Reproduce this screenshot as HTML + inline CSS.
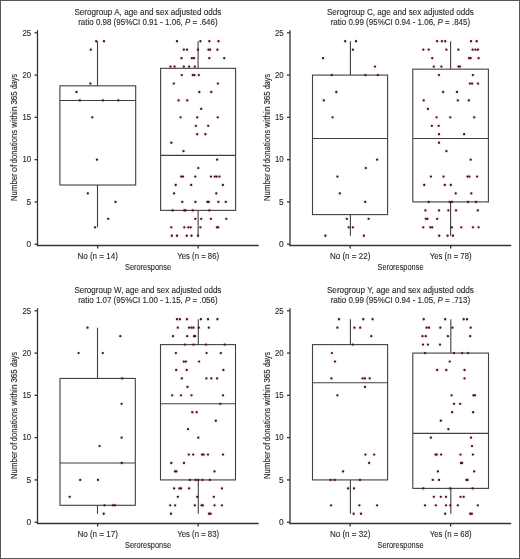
<!DOCTYPE html>
<html><head><meta charset="utf-8"><title>Seroresponse box plots</title><style>
html,body{margin:0;padding:0;background:#fff;}
body{width:520px;height:559px;overflow:hidden;}
svg{display:block;will-change:transform;}
text{font-family:"Liberation Sans",sans-serif;fill:#2a2a2a;stroke:#2a2a2a;stroke-width:0.12px;}
.tt{font-size:8.4px;text-anchor:middle;}
.tk{font-size:8.4px;text-anchor:end;}
.ct{font-size:8.6px;text-anchor:middle;}
.sr{font-size:9.9px;text-anchor:middle;}
.yl{font-size:9.2px;text-anchor:start;stroke:#2a2a2a;stroke-width:0.15px;}
.ax{stroke:#343434;stroke-width:1.3;fill:none;}
.bx{stroke:#404040;stroke-width:1.1;fill:none;}
circle{fill:#4a0f22;}
.h{fill:#d8244f;fill-opacity:0.07;}
</style></head>
<body><svg width="520" height="559" viewBox="0 0 520 559">
<rect x="0.5" y="0.5" width="519" height="558" fill="#fff" stroke="#585858" stroke-width="1"/>
<circle cx="96.2" cy="41.26" r="2.4" class="h"/>
<circle cx="104" cy="41.26" r="2.4" class="h"/>
<circle cx="90.8" cy="49.71" r="2.4" class="h"/>
<circle cx="90.4" cy="83.54" r="2.4" class="h"/>
<circle cx="76.5" cy="91.99" r="2.4" class="h"/>
<circle cx="79.8" cy="100.45" r="2.4" class="h"/>
<circle cx="102.9" cy="100.45" r="2.4" class="h"/>
<circle cx="118.3" cy="100.45" r="2.4" class="h"/>
<circle cx="92.3" cy="117.36" r="2.4" class="h"/>
<circle cx="97" cy="159.64" r="2.4" class="h"/>
<circle cx="87.8" cy="193.46" r="2.4" class="h"/>
<circle cx="115.5" cy="201.92" r="2.4" class="h"/>
<circle cx="108.2" cy="218.83" r="2.4" class="h"/>
<circle cx="95" cy="227.29" r="2.4" class="h"/>
<circle cx="177" cy="41.26" r="2.4" class="h"/>
<circle cx="200.4" cy="41.26" r="2.4" class="h"/>
<circle cx="209.3" cy="41.26" r="2.4" class="h"/>
<circle cx="218.5" cy="41.26" r="2.4" class="h"/>
<circle cx="183.8" cy="49.71" r="2.4" class="h"/>
<circle cx="187" cy="49.71" r="2.4" class="h"/>
<circle cx="198" cy="49.71" r="2.4" class="h"/>
<circle cx="208.5" cy="49.71" r="2.4" class="h"/>
<circle cx="210.1" cy="49.71" r="2.4" class="h"/>
<circle cx="217.4" cy="49.71" r="2.4" class="h"/>
<circle cx="181.5" cy="58.17" r="2.4" class="h"/>
<circle cx="191.9" cy="58.17" r="2.4" class="h"/>
<circle cx="194" cy="58.17" r="2.4" class="h"/>
<circle cx="209.3" cy="58.17" r="2.4" class="h"/>
<circle cx="224.2" cy="58.17" r="2.4" class="h"/>
<circle cx="170.5" cy="66.62" r="2.4" class="h"/>
<circle cx="174.6" cy="66.62" r="2.4" class="h"/>
<circle cx="183.8" cy="66.62" r="2.4" class="h"/>
<circle cx="189.1" cy="66.62" r="2.4" class="h"/>
<circle cx="194.8" cy="66.62" r="2.4" class="h"/>
<circle cx="181.8" cy="75.08" r="2.4" class="h"/>
<circle cx="192.8" cy="75.08" r="2.4" class="h"/>
<circle cx="194.4" cy="75.08" r="2.4" class="h"/>
<circle cx="198.8" cy="75.08" r="2.4" class="h"/>
<circle cx="173.8" cy="83.54" r="2.4" class="h"/>
<circle cx="217.9" cy="83.54" r="2.4" class="h"/>
<circle cx="199.3" cy="91.99" r="2.4" class="h"/>
<circle cx="211.3" cy="91.99" r="2.4" class="h"/>
<circle cx="178.6" cy="100.45" r="2.4" class="h"/>
<circle cx="187.2" cy="100.45" r="2.4" class="h"/>
<circle cx="201.2" cy="108.9" r="2.4" class="h"/>
<circle cx="180.6" cy="117.36" r="2.4" class="h"/>
<circle cx="197.2" cy="117.36" r="2.4" class="h"/>
<circle cx="217.7" cy="117.36" r="2.4" class="h"/>
<circle cx="195.9" cy="125.82" r="2.4" class="h"/>
<circle cx="208.2" cy="125.82" r="2.4" class="h"/>
<circle cx="197.2" cy="134.27" r="2.4" class="h"/>
<circle cx="205.4" cy="134.27" r="2.4" class="h"/>
<circle cx="171.3" cy="142.73" r="2.4" class="h"/>
<circle cx="183.5" cy="151.18" r="2.4" class="h"/>
<circle cx="217.1" cy="159.64" r="2.4" class="h"/>
<circle cx="198.3" cy="168.1" r="2.4" class="h"/>
<circle cx="181.2" cy="176.55" r="2.4" class="h"/>
<circle cx="183" cy="176.55" r="2.4" class="h"/>
<circle cx="195.3" cy="176.55" r="2.4" class="h"/>
<circle cx="210.9" cy="176.55" r="2.4" class="h"/>
<circle cx="214.8" cy="176.55" r="2.4" class="h"/>
<circle cx="216.7" cy="176.55" r="2.4" class="h"/>
<circle cx="219.5" cy="176.55" r="2.4" class="h"/>
<circle cx="175.7" cy="185.01" r="2.4" class="h"/>
<circle cx="191.2" cy="185.01" r="2.4" class="h"/>
<circle cx="222.9" cy="185.01" r="2.4" class="h"/>
<circle cx="174.1" cy="193.46" r="2.4" class="h"/>
<circle cx="216.3" cy="193.46" r="2.4" class="h"/>
<circle cx="182.3" cy="201.92" r="2.4" class="h"/>
<circle cx="195.4" cy="201.92" r="2.4" class="h"/>
<circle cx="207.4" cy="201.92" r="2.4" class="h"/>
<circle cx="208.7" cy="201.92" r="2.4" class="h"/>
<circle cx="218.4" cy="201.92" r="2.4" class="h"/>
<circle cx="225.8" cy="201.92" r="2.4" class="h"/>
<circle cx="172.6" cy="210.38" r="2.4" class="h"/>
<circle cx="184.3" cy="210.38" r="2.4" class="h"/>
<circle cx="185.6" cy="210.38" r="2.4" class="h"/>
<circle cx="192.7" cy="210.38" r="2.4" class="h"/>
<circle cx="209.3" cy="210.38" r="2.4" class="h"/>
<circle cx="195.3" cy="218.83" r="2.4" class="h"/>
<circle cx="201.2" cy="218.83" r="2.4" class="h"/>
<circle cx="210.9" cy="218.83" r="2.4" class="h"/>
<circle cx="226.3" cy="218.83" r="2.4" class="h"/>
<circle cx="171.3" cy="227.29" r="2.4" class="h"/>
<circle cx="184.3" cy="227.29" r="2.4" class="h"/>
<circle cx="188.3" cy="227.29" r="2.4" class="h"/>
<circle cx="190.7" cy="227.29" r="2.4" class="h"/>
<circle cx="200.4" cy="227.29" r="2.4" class="h"/>
<circle cx="216.9" cy="227.29" r="2.4" class="h"/>
<circle cx="218.2" cy="227.29" r="2.4" class="h"/>
<circle cx="171.8" cy="235.74" r="2.4" class="h"/>
<circle cx="177" cy="235.74" r="2.4" class="h"/>
<circle cx="186.7" cy="235.74" r="2.4" class="h"/>
<circle cx="191.5" cy="235.74" r="2.4" class="h"/>
<circle cx="198" cy="235.74" r="2.4" class="h"/>
<rect x="59.9" y="85.82" width="75.8" height="99.19" class="bx"/>
<line x1="59.9" y1="100.45" x2="135.7" y2="100.45" class="bx"/>
<line x1="97.5" y1="41.26" x2="97.5" y2="85.82" class="bx"/>
<line x1="97.5" y1="185.01" x2="97.5" y2="227.29" class="bx"/>
<rect x="160.6" y="68.32" width="75" height="142.06" class="bx"/>
<line x1="160.6" y1="155.41" x2="235.6" y2="155.41" class="bx"/>
<line x1="198.1" y1="41.26" x2="198.1" y2="68.32" class="bx"/>
<line x1="198.1" y1="210.38" x2="198.1" y2="235.74" class="bx"/>
<circle cx="96.2" cy="41.26" r="1.15"/>
<circle cx="104" cy="41.26" r="1.15"/>
<circle cx="90.8" cy="49.71" r="1.15"/>
<circle cx="90.4" cy="83.54" r="1.15"/>
<circle cx="76.5" cy="91.99" r="1.15"/>
<circle cx="79.8" cy="100.45" r="1.15"/>
<circle cx="102.9" cy="100.45" r="1.15"/>
<circle cx="118.3" cy="100.45" r="1.15"/>
<circle cx="92.3" cy="117.36" r="1.15"/>
<circle cx="97" cy="159.64" r="1.15"/>
<circle cx="87.8" cy="193.46" r="1.15"/>
<circle cx="115.5" cy="201.92" r="1.15"/>
<circle cx="108.2" cy="218.83" r="1.15"/>
<circle cx="95" cy="227.29" r="1.15"/>
<circle cx="177" cy="41.26" r="1.15"/>
<circle cx="200.4" cy="41.26" r="1.15"/>
<circle cx="209.3" cy="41.26" r="1.15"/>
<circle cx="218.5" cy="41.26" r="1.15"/>
<circle cx="183.8" cy="49.71" r="1.15"/>
<circle cx="187" cy="49.71" r="1.15"/>
<circle cx="198" cy="49.71" r="1.15"/>
<circle cx="208.5" cy="49.71" r="1.15"/>
<circle cx="210.1" cy="49.71" r="1.15"/>
<circle cx="217.4" cy="49.71" r="1.15"/>
<circle cx="181.5" cy="58.17" r="1.15"/>
<circle cx="191.9" cy="58.17" r="1.15"/>
<circle cx="194" cy="58.17" r="1.15"/>
<circle cx="209.3" cy="58.17" r="1.15"/>
<circle cx="224.2" cy="58.17" r="1.15"/>
<circle cx="170.5" cy="66.62" r="1.15"/>
<circle cx="174.6" cy="66.62" r="1.15"/>
<circle cx="183.8" cy="66.62" r="1.15"/>
<circle cx="189.1" cy="66.62" r="1.15"/>
<circle cx="194.8" cy="66.62" r="1.15"/>
<circle cx="181.8" cy="75.08" r="1.15"/>
<circle cx="192.8" cy="75.08" r="1.15"/>
<circle cx="194.4" cy="75.08" r="1.15"/>
<circle cx="198.8" cy="75.08" r="1.15"/>
<circle cx="173.8" cy="83.54" r="1.15"/>
<circle cx="217.9" cy="83.54" r="1.15"/>
<circle cx="199.3" cy="91.99" r="1.15"/>
<circle cx="211.3" cy="91.99" r="1.15"/>
<circle cx="178.6" cy="100.45" r="1.15"/>
<circle cx="187.2" cy="100.45" r="1.15"/>
<circle cx="201.2" cy="108.9" r="1.15"/>
<circle cx="180.6" cy="117.36" r="1.15"/>
<circle cx="197.2" cy="117.36" r="1.15"/>
<circle cx="217.7" cy="117.36" r="1.15"/>
<circle cx="195.9" cy="125.82" r="1.15"/>
<circle cx="208.2" cy="125.82" r="1.15"/>
<circle cx="197.2" cy="134.27" r="1.15"/>
<circle cx="205.4" cy="134.27" r="1.15"/>
<circle cx="171.3" cy="142.73" r="1.15"/>
<circle cx="183.5" cy="151.18" r="1.15"/>
<circle cx="217.1" cy="159.64" r="1.15"/>
<circle cx="198.3" cy="168.1" r="1.15"/>
<circle cx="181.2" cy="176.55" r="1.15"/>
<circle cx="183" cy="176.55" r="1.15"/>
<circle cx="195.3" cy="176.55" r="1.15"/>
<circle cx="210.9" cy="176.55" r="1.15"/>
<circle cx="214.8" cy="176.55" r="1.15"/>
<circle cx="216.7" cy="176.55" r="1.15"/>
<circle cx="219.5" cy="176.55" r="1.15"/>
<circle cx="175.7" cy="185.01" r="1.15"/>
<circle cx="191.2" cy="185.01" r="1.15"/>
<circle cx="222.9" cy="185.01" r="1.15"/>
<circle cx="174.1" cy="193.46" r="1.15"/>
<circle cx="216.3" cy="193.46" r="1.15"/>
<circle cx="182.3" cy="201.92" r="1.15"/>
<circle cx="195.4" cy="201.92" r="1.15"/>
<circle cx="207.4" cy="201.92" r="1.15"/>
<circle cx="208.7" cy="201.92" r="1.15"/>
<circle cx="218.4" cy="201.92" r="1.15"/>
<circle cx="225.8" cy="201.92" r="1.15"/>
<circle cx="172.6" cy="210.38" r="1.15"/>
<circle cx="184.3" cy="210.38" r="1.15"/>
<circle cx="185.6" cy="210.38" r="1.15"/>
<circle cx="192.7" cy="210.38" r="1.15"/>
<circle cx="209.3" cy="210.38" r="1.15"/>
<circle cx="195.3" cy="218.83" r="1.15"/>
<circle cx="201.2" cy="218.83" r="1.15"/>
<circle cx="210.9" cy="218.83" r="1.15"/>
<circle cx="226.3" cy="218.83" r="1.15"/>
<circle cx="171.3" cy="227.29" r="1.15"/>
<circle cx="184.3" cy="227.29" r="1.15"/>
<circle cx="188.3" cy="227.29" r="1.15"/>
<circle cx="190.7" cy="227.29" r="1.15"/>
<circle cx="200.4" cy="227.29" r="1.15"/>
<circle cx="216.9" cy="227.29" r="1.15"/>
<circle cx="218.2" cy="227.29" r="1.15"/>
<circle cx="171.8" cy="235.74" r="1.15"/>
<circle cx="177" cy="235.74" r="1.15"/>
<circle cx="186.7" cy="235.74" r="1.15"/>
<circle cx="191.5" cy="235.74" r="1.15"/>
<circle cx="198" cy="235.74" r="1.15"/>
<line x1="37.5" y1="30.2" x2="37.5" y2="246.1" class="ax"/>
<line x1="36.9" y1="245.5" x2="258.7" y2="245.5" class="ax"/>
<line x1="34.5" y1="244.2" x2="37.5" y2="244.2" class="ax"/>
<text x="31.2" y="247" class="tk">0</text>
<line x1="34.5" y1="201.92" x2="37.5" y2="201.92" class="ax"/>
<text x="31.2" y="204.72" class="tk">5</text>
<line x1="34.5" y1="159.64" x2="37.5" y2="159.64" class="ax"/>
<text x="31.2" y="162.44" class="tk" textLength="8.7" lengthAdjust="spacingAndGlyphs">10</text>
<line x1="34.5" y1="117.36" x2="37.5" y2="117.36" class="ax"/>
<text x="31.2" y="120.16" class="tk" textLength="8.7" lengthAdjust="spacingAndGlyphs">15</text>
<line x1="34.5" y1="75.08" x2="37.5" y2="75.08" class="ax"/>
<text x="31.2" y="77.88" class="tk" textLength="8.7" lengthAdjust="spacingAndGlyphs">20</text>
<line x1="34.5" y1="32.8" x2="37.5" y2="32.8" class="ax"/>
<text x="31.2" y="35.6" class="tk" textLength="8.7" lengthAdjust="spacingAndGlyphs">25</text>
<line x1="97.65" y1="245.5" x2="97.65" y2="248.6" class="ax"/>
<line x1="198.15" y1="245.5" x2="198.15" y2="248.6" class="ax"/>
<text x="97.65" y="258.6" class="ct" textLength="40.5" lengthAdjust="spacingAndGlyphs">No (n = 14)</text>
<text x="198.15" y="258.6" class="ct" textLength="41.8" lengthAdjust="spacingAndGlyphs">Yes (n = 86)</text>
<text x="148" y="270.1" class="sr" textLength="46.0" lengthAdjust="spacingAndGlyphs">Seroresponse</text>
<text x="147.9" y="15.4" class="tt" textLength="147.0" lengthAdjust="spacingAndGlyphs">Serogroup A, age and sex adjusted odds</text>
<text x="147.9" y="24.6" class="tt" textLength="139.5" lengthAdjust="spacingAndGlyphs">ratio 0.98 (95%CI 0.91 - 1.06, <tspan font-style="italic">P</tspan> = .646)</text>
<text transform="translate(17.3,201.1) rotate(-90)" x="0" y="0" class="yl" textLength="27.8" lengthAdjust="spacingAndGlyphs">Number</text>
<text transform="translate(17.3,171.9) rotate(-90)" x="0" y="0" class="yl" textLength="7.4" lengthAdjust="spacingAndGlyphs">of</text>
<text transform="translate(17.3,163.3) rotate(-90)" x="0" y="0" class="yl" textLength="33.5" lengthAdjust="spacingAndGlyphs">donations</text>
<text transform="translate(17.3,127.7) rotate(-90)" x="0" y="0" class="yl" textLength="21.2" lengthAdjust="spacingAndGlyphs">within</text>
<text transform="translate(17.3,104.6) rotate(-90)" x="0" y="0" class="yl" textLength="13.3" lengthAdjust="spacingAndGlyphs">365</text>
<text transform="translate(17.3,89.1) rotate(-90)" x="0" y="0" class="yl" textLength="15.1" lengthAdjust="spacingAndGlyphs">days</text>
<circle cx="345.2" cy="41.26" r="2.4" class="h"/>
<circle cx="356" cy="41.26" r="2.4" class="h"/>
<circle cx="352.9" cy="49.71" r="2.4" class="h"/>
<circle cx="323" cy="58.17" r="2.4" class="h"/>
<circle cx="375" cy="66.62" r="2.4" class="h"/>
<circle cx="331.7" cy="75.08" r="2.4" class="h"/>
<circle cx="365.4" cy="75.08" r="2.4" class="h"/>
<circle cx="377.8" cy="75.08" r="2.4" class="h"/>
<circle cx="336.3" cy="91.99" r="2.4" class="h"/>
<circle cx="323.8" cy="100.45" r="2.4" class="h"/>
<circle cx="332.6" cy="117.36" r="2.4" class="h"/>
<circle cx="377.1" cy="159.64" r="2.4" class="h"/>
<circle cx="365.8" cy="168.1" r="2.4" class="h"/>
<circle cx="337.4" cy="176.55" r="2.4" class="h"/>
<circle cx="339.8" cy="193.46" r="2.4" class="h"/>
<circle cx="365.2" cy="201.92" r="2.4" class="h"/>
<circle cx="346.8" cy="218.83" r="2.4" class="h"/>
<circle cx="368.6" cy="218.83" r="2.4" class="h"/>
<circle cx="348.7" cy="227.29" r="2.4" class="h"/>
<circle cx="352.9" cy="227.29" r="2.4" class="h"/>
<circle cx="325.4" cy="235.74" r="2.4" class="h"/>
<circle cx="363.9" cy="235.74" r="2.4" class="h"/>
<circle cx="437.1" cy="41.26" r="2.4" class="h"/>
<circle cx="441.9" cy="41.26" r="2.4" class="h"/>
<circle cx="445.2" cy="41.26" r="2.4" class="h"/>
<circle cx="471" cy="41.26" r="2.4" class="h"/>
<circle cx="476.7" cy="41.26" r="2.4" class="h"/>
<circle cx="423.3" cy="49.71" r="2.4" class="h"/>
<circle cx="428.7" cy="49.71" r="2.4" class="h"/>
<circle cx="446.4" cy="49.71" r="2.4" class="h"/>
<circle cx="458.4" cy="49.71" r="2.4" class="h"/>
<circle cx="472.6" cy="49.71" r="2.4" class="h"/>
<circle cx="475.5" cy="49.71" r="2.4" class="h"/>
<circle cx="478" cy="49.71" r="2.4" class="h"/>
<circle cx="432.2" cy="58.17" r="2.4" class="h"/>
<circle cx="469.1" cy="58.17" r="2.4" class="h"/>
<circle cx="470.6" cy="58.17" r="2.4" class="h"/>
<circle cx="478.6" cy="58.17" r="2.4" class="h"/>
<circle cx="433.8" cy="66.62" r="2.4" class="h"/>
<circle cx="441.4" cy="66.62" r="2.4" class="h"/>
<circle cx="458.4" cy="66.62" r="2.4" class="h"/>
<circle cx="460" cy="66.62" r="2.4" class="h"/>
<circle cx="439" cy="75.08" r="2.4" class="h"/>
<circle cx="472.9" cy="75.08" r="2.4" class="h"/>
<circle cx="469.9" cy="83.54" r="2.4" class="h"/>
<circle cx="472.1" cy="83.54" r="2.4" class="h"/>
<circle cx="478" cy="83.54" r="2.4" class="h"/>
<circle cx="443.1" cy="91.99" r="2.4" class="h"/>
<circle cx="457" cy="91.99" r="2.4" class="h"/>
<circle cx="423.7" cy="100.45" r="2.4" class="h"/>
<circle cx="457.8" cy="100.45" r="2.4" class="h"/>
<circle cx="468.9" cy="100.45" r="2.4" class="h"/>
<circle cx="427.9" cy="108.9" r="2.4" class="h"/>
<circle cx="436.6" cy="117.36" r="2.4" class="h"/>
<circle cx="450.3" cy="117.36" r="2.4" class="h"/>
<circle cx="474.2" cy="117.36" r="2.4" class="h"/>
<circle cx="431.9" cy="125.82" r="2.4" class="h"/>
<circle cx="438.7" cy="125.82" r="2.4" class="h"/>
<circle cx="439" cy="134.27" r="2.4" class="h"/>
<circle cx="464.1" cy="134.27" r="2.4" class="h"/>
<circle cx="439" cy="142.73" r="2.4" class="h"/>
<circle cx="446.4" cy="151.18" r="2.4" class="h"/>
<circle cx="470.7" cy="159.64" r="2.4" class="h"/>
<circle cx="430.9" cy="176.55" r="2.4" class="h"/>
<circle cx="443.5" cy="176.55" r="2.4" class="h"/>
<circle cx="467.5" cy="176.55" r="2.4" class="h"/>
<circle cx="469.4" cy="176.55" r="2.4" class="h"/>
<circle cx="477.1" cy="176.55" r="2.4" class="h"/>
<circle cx="424.2" cy="185.01" r="2.4" class="h"/>
<circle cx="444.8" cy="185.01" r="2.4" class="h"/>
<circle cx="450.8" cy="185.01" r="2.4" class="h"/>
<circle cx="455.7" cy="193.46" r="2.4" class="h"/>
<circle cx="471.3" cy="193.46" r="2.4" class="h"/>
<circle cx="428.7" cy="201.92" r="2.4" class="h"/>
<circle cx="449.7" cy="201.92" r="2.4" class="h"/>
<circle cx="451.9" cy="201.92" r="2.4" class="h"/>
<circle cx="468.1" cy="201.92" r="2.4" class="h"/>
<circle cx="475.9" cy="201.92" r="2.4" class="h"/>
<circle cx="425.4" cy="210.38" r="2.4" class="h"/>
<circle cx="439" cy="210.38" r="2.4" class="h"/>
<circle cx="448.4" cy="210.38" r="2.4" class="h"/>
<circle cx="456" cy="210.38" r="2.4" class="h"/>
<circle cx="477.8" cy="210.38" r="2.4" class="h"/>
<circle cx="425.8" cy="218.83" r="2.4" class="h"/>
<circle cx="427.4" cy="218.83" r="2.4" class="h"/>
<circle cx="437.2" cy="218.83" r="2.4" class="h"/>
<circle cx="423.3" cy="227.29" r="2.4" class="h"/>
<circle cx="430.3" cy="227.29" r="2.4" class="h"/>
<circle cx="432.2" cy="227.29" r="2.4" class="h"/>
<circle cx="451.9" cy="227.29" r="2.4" class="h"/>
<circle cx="461.3" cy="227.29" r="2.4" class="h"/>
<circle cx="472.9" cy="227.29" r="2.4" class="h"/>
<circle cx="478.6" cy="227.29" r="2.4" class="h"/>
<circle cx="439.2" cy="235.74" r="2.4" class="h"/>
<circle cx="447.6" cy="235.74" r="2.4" class="h"/>
<circle cx="452.9" cy="235.74" r="2.4" class="h"/>
<rect x="312.5" y="75.08" width="75.1" height="139.52" class="bx"/>
<line x1="312.5" y1="138.5" x2="387.6" y2="138.5" class="bx"/>
<line x1="350.4" y1="41.26" x2="350.4" y2="75.08" class="bx"/>
<line x1="350.4" y1="214.6" x2="350.4" y2="235.74" class="bx"/>
<rect x="412.8" y="69.16" width="75.6" height="132.76" class="bx"/>
<line x1="412.8" y1="138.5" x2="488.4" y2="138.5" class="bx"/>
<line x1="450.6" y1="41.26" x2="450.6" y2="69.16" class="bx"/>
<line x1="450.6" y1="201.92" x2="450.6" y2="235.74" class="bx"/>
<circle cx="345.2" cy="41.26" r="1.15"/>
<circle cx="356" cy="41.26" r="1.15"/>
<circle cx="352.9" cy="49.71" r="1.15"/>
<circle cx="323" cy="58.17" r="1.15"/>
<circle cx="375" cy="66.62" r="1.15"/>
<circle cx="331.7" cy="75.08" r="1.15"/>
<circle cx="365.4" cy="75.08" r="1.15"/>
<circle cx="377.8" cy="75.08" r="1.15"/>
<circle cx="336.3" cy="91.99" r="1.15"/>
<circle cx="323.8" cy="100.45" r="1.15"/>
<circle cx="332.6" cy="117.36" r="1.15"/>
<circle cx="377.1" cy="159.64" r="1.15"/>
<circle cx="365.8" cy="168.1" r="1.15"/>
<circle cx="337.4" cy="176.55" r="1.15"/>
<circle cx="339.8" cy="193.46" r="1.15"/>
<circle cx="365.2" cy="201.92" r="1.15"/>
<circle cx="346.8" cy="218.83" r="1.15"/>
<circle cx="368.6" cy="218.83" r="1.15"/>
<circle cx="348.7" cy="227.29" r="1.15"/>
<circle cx="352.9" cy="227.29" r="1.15"/>
<circle cx="325.4" cy="235.74" r="1.15"/>
<circle cx="363.9" cy="235.74" r="1.15"/>
<circle cx="437.1" cy="41.26" r="1.15"/>
<circle cx="441.9" cy="41.26" r="1.15"/>
<circle cx="445.2" cy="41.26" r="1.15"/>
<circle cx="471" cy="41.26" r="1.15"/>
<circle cx="476.7" cy="41.26" r="1.15"/>
<circle cx="423.3" cy="49.71" r="1.15"/>
<circle cx="428.7" cy="49.71" r="1.15"/>
<circle cx="446.4" cy="49.71" r="1.15"/>
<circle cx="458.4" cy="49.71" r="1.15"/>
<circle cx="472.6" cy="49.71" r="1.15"/>
<circle cx="475.5" cy="49.71" r="1.15"/>
<circle cx="478" cy="49.71" r="1.15"/>
<circle cx="432.2" cy="58.17" r="1.15"/>
<circle cx="469.1" cy="58.17" r="1.15"/>
<circle cx="470.6" cy="58.17" r="1.15"/>
<circle cx="478.6" cy="58.17" r="1.15"/>
<circle cx="433.8" cy="66.62" r="1.15"/>
<circle cx="441.4" cy="66.62" r="1.15"/>
<circle cx="458.4" cy="66.62" r="1.15"/>
<circle cx="460" cy="66.62" r="1.15"/>
<circle cx="439" cy="75.08" r="1.15"/>
<circle cx="472.9" cy="75.08" r="1.15"/>
<circle cx="469.9" cy="83.54" r="1.15"/>
<circle cx="472.1" cy="83.54" r="1.15"/>
<circle cx="478" cy="83.54" r="1.15"/>
<circle cx="443.1" cy="91.99" r="1.15"/>
<circle cx="457" cy="91.99" r="1.15"/>
<circle cx="423.7" cy="100.45" r="1.15"/>
<circle cx="457.8" cy="100.45" r="1.15"/>
<circle cx="468.9" cy="100.45" r="1.15"/>
<circle cx="427.9" cy="108.9" r="1.15"/>
<circle cx="436.6" cy="117.36" r="1.15"/>
<circle cx="450.3" cy="117.36" r="1.15"/>
<circle cx="474.2" cy="117.36" r="1.15"/>
<circle cx="431.9" cy="125.82" r="1.15"/>
<circle cx="438.7" cy="125.82" r="1.15"/>
<circle cx="439" cy="134.27" r="1.15"/>
<circle cx="464.1" cy="134.27" r="1.15"/>
<circle cx="439" cy="142.73" r="1.15"/>
<circle cx="446.4" cy="151.18" r="1.15"/>
<circle cx="470.7" cy="159.64" r="1.15"/>
<circle cx="430.9" cy="176.55" r="1.15"/>
<circle cx="443.5" cy="176.55" r="1.15"/>
<circle cx="467.5" cy="176.55" r="1.15"/>
<circle cx="469.4" cy="176.55" r="1.15"/>
<circle cx="477.1" cy="176.55" r="1.15"/>
<circle cx="424.2" cy="185.01" r="1.15"/>
<circle cx="444.8" cy="185.01" r="1.15"/>
<circle cx="450.8" cy="185.01" r="1.15"/>
<circle cx="455.7" cy="193.46" r="1.15"/>
<circle cx="471.3" cy="193.46" r="1.15"/>
<circle cx="428.7" cy="201.92" r="1.15"/>
<circle cx="449.7" cy="201.92" r="1.15"/>
<circle cx="451.9" cy="201.92" r="1.15"/>
<circle cx="468.1" cy="201.92" r="1.15"/>
<circle cx="475.9" cy="201.92" r="1.15"/>
<circle cx="425.4" cy="210.38" r="1.15"/>
<circle cx="439" cy="210.38" r="1.15"/>
<circle cx="448.4" cy="210.38" r="1.15"/>
<circle cx="456" cy="210.38" r="1.15"/>
<circle cx="477.8" cy="210.38" r="1.15"/>
<circle cx="425.8" cy="218.83" r="1.15"/>
<circle cx="427.4" cy="218.83" r="1.15"/>
<circle cx="437.2" cy="218.83" r="1.15"/>
<circle cx="423.3" cy="227.29" r="1.15"/>
<circle cx="430.3" cy="227.29" r="1.15"/>
<circle cx="432.2" cy="227.29" r="1.15"/>
<circle cx="451.9" cy="227.29" r="1.15"/>
<circle cx="461.3" cy="227.29" r="1.15"/>
<circle cx="472.9" cy="227.29" r="1.15"/>
<circle cx="478.6" cy="227.29" r="1.15"/>
<circle cx="439.2" cy="235.74" r="1.15"/>
<circle cx="447.6" cy="235.74" r="1.15"/>
<circle cx="452.9" cy="235.74" r="1.15"/>
<line x1="290" y1="30.2" x2="290" y2="246.1" class="ax"/>
<line x1="289.4" y1="245.5" x2="511.2" y2="245.5" class="ax"/>
<line x1="287" y1="244.2" x2="290" y2="244.2" class="ax"/>
<text x="283.7" y="247" class="tk">0</text>
<line x1="287" y1="201.92" x2="290" y2="201.92" class="ax"/>
<text x="283.7" y="204.72" class="tk">5</text>
<line x1="287" y1="159.64" x2="290" y2="159.64" class="ax"/>
<text x="283.7" y="162.44" class="tk" textLength="8.7" lengthAdjust="spacingAndGlyphs">10</text>
<line x1="287" y1="117.36" x2="290" y2="117.36" class="ax"/>
<text x="283.7" y="120.16" class="tk" textLength="8.7" lengthAdjust="spacingAndGlyphs">15</text>
<line x1="287" y1="75.08" x2="290" y2="75.08" class="ax"/>
<text x="283.7" y="77.88" class="tk" textLength="8.7" lengthAdjust="spacingAndGlyphs">20</text>
<line x1="287" y1="32.8" x2="290" y2="32.8" class="ax"/>
<text x="283.7" y="35.6" class="tk" textLength="8.7" lengthAdjust="spacingAndGlyphs">25</text>
<line x1="350.15" y1="245.5" x2="350.15" y2="248.6" class="ax"/>
<line x1="450.65" y1="245.5" x2="450.65" y2="248.6" class="ax"/>
<text x="350.15" y="258.6" class="ct" textLength="40.5" lengthAdjust="spacingAndGlyphs">No (n = 22)</text>
<text x="450.65" y="258.6" class="ct" textLength="41.8" lengthAdjust="spacingAndGlyphs">Yes (n = 78)</text>
<text x="400.5" y="270.1" class="sr" textLength="46.0" lengthAdjust="spacingAndGlyphs">Seroresponse</text>
<text x="400.4" y="15.4" class="tt" textLength="147.0" lengthAdjust="spacingAndGlyphs">Serogroup C, age and sex adjusted odds</text>
<text x="400.4" y="24.6" class="tt" textLength="139.5" lengthAdjust="spacingAndGlyphs">ratio 0.99 (95%CI 0.94 - 1.06, <tspan font-style="italic">P</tspan> = .845)</text>
<text transform="translate(269.8,201.1) rotate(-90)" x="0" y="0" class="yl" textLength="27.8" lengthAdjust="spacingAndGlyphs">Number</text>
<text transform="translate(269.8,171.9) rotate(-90)" x="0" y="0" class="yl" textLength="7.4" lengthAdjust="spacingAndGlyphs">of</text>
<text transform="translate(269.8,163.3) rotate(-90)" x="0" y="0" class="yl" textLength="33.5" lengthAdjust="spacingAndGlyphs">donations</text>
<text transform="translate(269.8,127.7) rotate(-90)" x="0" y="0" class="yl" textLength="21.2" lengthAdjust="spacingAndGlyphs">within</text>
<text transform="translate(269.8,104.6) rotate(-90)" x="0" y="0" class="yl" textLength="13.3" lengthAdjust="spacingAndGlyphs">365</text>
<text transform="translate(269.8,89.1) rotate(-90)" x="0" y="0" class="yl" textLength="15.1" lengthAdjust="spacingAndGlyphs">days</text>
<circle cx="87.5" cy="327.71" r="2.4" class="h"/>
<circle cx="120.3" cy="336.17" r="2.4" class="h"/>
<circle cx="78.6" cy="353.08" r="2.4" class="h"/>
<circle cx="102.8" cy="353.08" r="2.4" class="h"/>
<circle cx="122.2" cy="378.45" r="2.4" class="h"/>
<circle cx="121.6" cy="403.82" r="2.4" class="h"/>
<circle cx="121.6" cy="437.64" r="2.4" class="h"/>
<circle cx="99.6" cy="446.1" r="2.4" class="h"/>
<circle cx="121.8" cy="463.01" r="2.4" class="h"/>
<circle cx="80.2" cy="479.92" r="2.4" class="h"/>
<circle cx="98" cy="479.92" r="2.4" class="h"/>
<circle cx="69.7" cy="496.83" r="2.4" class="h"/>
<circle cx="104.5" cy="505.29" r="2.4" class="h"/>
<circle cx="112.9" cy="505.29" r="2.4" class="h"/>
<circle cx="115" cy="505.29" r="2.4" class="h"/>
<circle cx="103.7" cy="513.74" r="2.4" class="h"/>
<circle cx="177" cy="319.26" r="2.4" class="h"/>
<circle cx="179.9" cy="319.26" r="2.4" class="h"/>
<circle cx="187" cy="319.26" r="2.4" class="h"/>
<circle cx="200.9" cy="319.26" r="2.4" class="h"/>
<circle cx="208" cy="319.26" r="2.4" class="h"/>
<circle cx="217.4" cy="319.26" r="2.4" class="h"/>
<circle cx="177.8" cy="327.71" r="2.4" class="h"/>
<circle cx="189.1" cy="327.71" r="2.4" class="h"/>
<circle cx="191.5" cy="327.71" r="2.4" class="h"/>
<circle cx="193.5" cy="327.71" r="2.4" class="h"/>
<circle cx="198.8" cy="327.71" r="2.4" class="h"/>
<circle cx="208.8" cy="327.71" r="2.4" class="h"/>
<circle cx="173" cy="336.17" r="2.4" class="h"/>
<circle cx="187.2" cy="336.17" r="2.4" class="h"/>
<circle cx="194" cy="336.17" r="2.4" class="h"/>
<circle cx="195.1" cy="336.17" r="2.4" class="h"/>
<circle cx="184.8" cy="344.62" r="2.4" class="h"/>
<circle cx="193.5" cy="344.62" r="2.4" class="h"/>
<circle cx="206.1" cy="344.62" r="2.4" class="h"/>
<circle cx="224.7" cy="344.62" r="2.4" class="h"/>
<circle cx="175.9" cy="353.08" r="2.4" class="h"/>
<circle cx="206.6" cy="353.08" r="2.4" class="h"/>
<circle cx="220.9" cy="353.08" r="2.4" class="h"/>
<circle cx="183.8" cy="361.54" r="2.4" class="h"/>
<circle cx="185.9" cy="361.54" r="2.4" class="h"/>
<circle cx="199.1" cy="361.54" r="2.4" class="h"/>
<circle cx="176.2" cy="369.99" r="2.4" class="h"/>
<circle cx="186.7" cy="369.99" r="2.4" class="h"/>
<circle cx="223.4" cy="369.99" r="2.4" class="h"/>
<circle cx="181.8" cy="378.45" r="2.4" class="h"/>
<circle cx="206.4" cy="378.45" r="2.4" class="h"/>
<circle cx="211.3" cy="378.45" r="2.4" class="h"/>
<circle cx="217.1" cy="378.45" r="2.4" class="h"/>
<circle cx="187.5" cy="386.9" r="2.4" class="h"/>
<circle cx="172.2" cy="395.36" r="2.4" class="h"/>
<circle cx="181" cy="395.36" r="2.4" class="h"/>
<circle cx="191.5" cy="395.36" r="2.4" class="h"/>
<circle cx="223" cy="395.36" r="2.4" class="h"/>
<circle cx="220.3" cy="403.82" r="2.4" class="h"/>
<circle cx="192.3" cy="412.27" r="2.4" class="h"/>
<circle cx="196.7" cy="412.27" r="2.4" class="h"/>
<circle cx="215.8" cy="420.73" r="2.4" class="h"/>
<circle cx="188" cy="429.18" r="2.4" class="h"/>
<circle cx="198.3" cy="437.64" r="2.4" class="h"/>
<circle cx="188.8" cy="454.55" r="2.4" class="h"/>
<circle cx="193.2" cy="454.55" r="2.4" class="h"/>
<circle cx="202" cy="454.55" r="2.4" class="h"/>
<circle cx="203.7" cy="454.55" r="2.4" class="h"/>
<circle cx="208" cy="454.55" r="2.4" class="h"/>
<circle cx="223" cy="454.55" r="2.4" class="h"/>
<circle cx="171.3" cy="463.01" r="2.4" class="h"/>
<circle cx="184" cy="463.01" r="2.4" class="h"/>
<circle cx="175.1" cy="471.46" r="2.4" class="h"/>
<circle cx="176.4" cy="471.46" r="2.4" class="h"/>
<circle cx="214.5" cy="471.46" r="2.4" class="h"/>
<circle cx="189.9" cy="479.92" r="2.4" class="h"/>
<circle cx="195.6" cy="479.92" r="2.4" class="h"/>
<circle cx="198.3" cy="479.92" r="2.4" class="h"/>
<circle cx="202.5" cy="479.92" r="2.4" class="h"/>
<circle cx="209.8" cy="479.92" r="2.4" class="h"/>
<circle cx="174.1" cy="488.38" r="2.4" class="h"/>
<circle cx="179.4" cy="488.38" r="2.4" class="h"/>
<circle cx="181" cy="488.38" r="2.4" class="h"/>
<circle cx="189.1" cy="488.38" r="2.4" class="h"/>
<circle cx="221.9" cy="488.38" r="2.4" class="h"/>
<circle cx="177.8" cy="496.83" r="2.4" class="h"/>
<circle cx="197.2" cy="496.83" r="2.4" class="h"/>
<circle cx="213.8" cy="496.83" r="2.4" class="h"/>
<circle cx="170.2" cy="505.29" r="2.4" class="h"/>
<circle cx="175.1" cy="505.29" r="2.4" class="h"/>
<circle cx="194.8" cy="505.29" r="2.4" class="h"/>
<circle cx="201.6" cy="505.29" r="2.4" class="h"/>
<circle cx="202.8" cy="505.29" r="2.4" class="h"/>
<circle cx="214.5" cy="505.29" r="2.4" class="h"/>
<circle cx="221.9" cy="505.29" r="2.4" class="h"/>
<circle cx="171" cy="513.74" r="2.4" class="h"/>
<circle cx="209" cy="513.74" r="2.4" class="h"/>
<circle cx="210.6" cy="513.74" r="2.4" class="h"/>
<rect x="60" y="378.45" width="75.3" height="126.84" class="bx"/>
<line x1="60" y1="463.01" x2="135.3" y2="463.01" class="bx"/>
<line x1="97.5" y1="327.71" x2="97.5" y2="378.45" class="bx"/>
<line x1="97.5" y1="505.29" x2="97.5" y2="513.74" class="bx"/>
<rect x="160.5" y="344.62" width="75" height="135.3" class="bx"/>
<line x1="160.5" y1="403.82" x2="235.5" y2="403.82" class="bx"/>
<line x1="198.3" y1="319.26" x2="198.3" y2="344.62" class="bx"/>
<line x1="198.3" y1="479.92" x2="198.3" y2="513.74" class="bx"/>
<circle cx="87.5" cy="327.71" r="1.15"/>
<circle cx="120.3" cy="336.17" r="1.15"/>
<circle cx="78.6" cy="353.08" r="1.15"/>
<circle cx="102.8" cy="353.08" r="1.15"/>
<circle cx="122.2" cy="378.45" r="1.15"/>
<circle cx="121.6" cy="403.82" r="1.15"/>
<circle cx="121.6" cy="437.64" r="1.15"/>
<circle cx="99.6" cy="446.1" r="1.15"/>
<circle cx="121.8" cy="463.01" r="1.15"/>
<circle cx="80.2" cy="479.92" r="1.15"/>
<circle cx="98" cy="479.92" r="1.15"/>
<circle cx="69.7" cy="496.83" r="1.15"/>
<circle cx="104.5" cy="505.29" r="1.15"/>
<circle cx="112.9" cy="505.29" r="1.15"/>
<circle cx="115" cy="505.29" r="1.15"/>
<circle cx="103.7" cy="513.74" r="1.15"/>
<circle cx="177" cy="319.26" r="1.15"/>
<circle cx="179.9" cy="319.26" r="1.15"/>
<circle cx="187" cy="319.26" r="1.15"/>
<circle cx="200.9" cy="319.26" r="1.15"/>
<circle cx="208" cy="319.26" r="1.15"/>
<circle cx="217.4" cy="319.26" r="1.15"/>
<circle cx="177.8" cy="327.71" r="1.15"/>
<circle cx="189.1" cy="327.71" r="1.15"/>
<circle cx="191.5" cy="327.71" r="1.15"/>
<circle cx="193.5" cy="327.71" r="1.15"/>
<circle cx="198.8" cy="327.71" r="1.15"/>
<circle cx="208.8" cy="327.71" r="1.15"/>
<circle cx="173" cy="336.17" r="1.15"/>
<circle cx="187.2" cy="336.17" r="1.15"/>
<circle cx="194" cy="336.17" r="1.15"/>
<circle cx="195.1" cy="336.17" r="1.15"/>
<circle cx="184.8" cy="344.62" r="1.15"/>
<circle cx="193.5" cy="344.62" r="1.15"/>
<circle cx="206.1" cy="344.62" r="1.15"/>
<circle cx="224.7" cy="344.62" r="1.15"/>
<circle cx="175.9" cy="353.08" r="1.15"/>
<circle cx="206.6" cy="353.08" r="1.15"/>
<circle cx="220.9" cy="353.08" r="1.15"/>
<circle cx="183.8" cy="361.54" r="1.15"/>
<circle cx="185.9" cy="361.54" r="1.15"/>
<circle cx="199.1" cy="361.54" r="1.15"/>
<circle cx="176.2" cy="369.99" r="1.15"/>
<circle cx="186.7" cy="369.99" r="1.15"/>
<circle cx="223.4" cy="369.99" r="1.15"/>
<circle cx="181.8" cy="378.45" r="1.15"/>
<circle cx="206.4" cy="378.45" r="1.15"/>
<circle cx="211.3" cy="378.45" r="1.15"/>
<circle cx="217.1" cy="378.45" r="1.15"/>
<circle cx="187.5" cy="386.9" r="1.15"/>
<circle cx="172.2" cy="395.36" r="1.15"/>
<circle cx="181" cy="395.36" r="1.15"/>
<circle cx="191.5" cy="395.36" r="1.15"/>
<circle cx="223" cy="395.36" r="1.15"/>
<circle cx="220.3" cy="403.82" r="1.15"/>
<circle cx="192.3" cy="412.27" r="1.15"/>
<circle cx="196.7" cy="412.27" r="1.15"/>
<circle cx="215.8" cy="420.73" r="1.15"/>
<circle cx="188" cy="429.18" r="1.15"/>
<circle cx="198.3" cy="437.64" r="1.15"/>
<circle cx="188.8" cy="454.55" r="1.15"/>
<circle cx="193.2" cy="454.55" r="1.15"/>
<circle cx="202" cy="454.55" r="1.15"/>
<circle cx="203.7" cy="454.55" r="1.15"/>
<circle cx="208" cy="454.55" r="1.15"/>
<circle cx="223" cy="454.55" r="1.15"/>
<circle cx="171.3" cy="463.01" r="1.15"/>
<circle cx="184" cy="463.01" r="1.15"/>
<circle cx="175.1" cy="471.46" r="1.15"/>
<circle cx="176.4" cy="471.46" r="1.15"/>
<circle cx="214.5" cy="471.46" r="1.15"/>
<circle cx="189.9" cy="479.92" r="1.15"/>
<circle cx="195.6" cy="479.92" r="1.15"/>
<circle cx="198.3" cy="479.92" r="1.15"/>
<circle cx="202.5" cy="479.92" r="1.15"/>
<circle cx="209.8" cy="479.92" r="1.15"/>
<circle cx="174.1" cy="488.38" r="1.15"/>
<circle cx="179.4" cy="488.38" r="1.15"/>
<circle cx="181" cy="488.38" r="1.15"/>
<circle cx="189.1" cy="488.38" r="1.15"/>
<circle cx="221.9" cy="488.38" r="1.15"/>
<circle cx="177.8" cy="496.83" r="1.15"/>
<circle cx="197.2" cy="496.83" r="1.15"/>
<circle cx="213.8" cy="496.83" r="1.15"/>
<circle cx="170.2" cy="505.29" r="1.15"/>
<circle cx="175.1" cy="505.29" r="1.15"/>
<circle cx="194.8" cy="505.29" r="1.15"/>
<circle cx="201.6" cy="505.29" r="1.15"/>
<circle cx="202.8" cy="505.29" r="1.15"/>
<circle cx="214.5" cy="505.29" r="1.15"/>
<circle cx="221.9" cy="505.29" r="1.15"/>
<circle cx="171" cy="513.74" r="1.15"/>
<circle cx="209" cy="513.74" r="1.15"/>
<circle cx="210.6" cy="513.74" r="1.15"/>
<line x1="37.5" y1="308.2" x2="37.5" y2="524.1" class="ax"/>
<line x1="36.9" y1="523.5" x2="258.7" y2="523.5" class="ax"/>
<line x1="34.5" y1="522.2" x2="37.5" y2="522.2" class="ax"/>
<text x="31.2" y="525" class="tk">0</text>
<line x1="34.5" y1="479.92" x2="37.5" y2="479.92" class="ax"/>
<text x="31.2" y="482.72" class="tk">5</text>
<line x1="34.5" y1="437.64" x2="37.5" y2="437.64" class="ax"/>
<text x="31.2" y="440.44" class="tk" textLength="8.7" lengthAdjust="spacingAndGlyphs">10</text>
<line x1="34.5" y1="395.36" x2="37.5" y2="395.36" class="ax"/>
<text x="31.2" y="398.16" class="tk" textLength="8.7" lengthAdjust="spacingAndGlyphs">15</text>
<line x1="34.5" y1="353.08" x2="37.5" y2="353.08" class="ax"/>
<text x="31.2" y="355.88" class="tk" textLength="8.7" lengthAdjust="spacingAndGlyphs">20</text>
<line x1="34.5" y1="310.8" x2="37.5" y2="310.8" class="ax"/>
<text x="31.2" y="313.6" class="tk" textLength="8.7" lengthAdjust="spacingAndGlyphs">25</text>
<line x1="97.65" y1="523.5" x2="97.65" y2="526.6" class="ax"/>
<line x1="198.15" y1="523.5" x2="198.15" y2="526.6" class="ax"/>
<text x="97.65" y="536.6" class="ct" textLength="40.5" lengthAdjust="spacingAndGlyphs">No (n = 17)</text>
<text x="198.15" y="536.6" class="ct" textLength="41.8" lengthAdjust="spacingAndGlyphs">Yes (n = 83)</text>
<text x="148" y="548.1" class="sr" textLength="46.0" lengthAdjust="spacingAndGlyphs">Seroresponse</text>
<text x="147.9" y="293.4" class="tt" textLength="147.0" lengthAdjust="spacingAndGlyphs">Serogroup W, age and sex adjusted odds</text>
<text x="147.9" y="302.6" class="tt" textLength="139.5" lengthAdjust="spacingAndGlyphs">ratio 1.07 (95%CI 1.00 - 1.15, <tspan font-style="italic">P</tspan> = .056)</text>
<text transform="translate(17.3,479.1) rotate(-90)" x="0" y="0" class="yl" textLength="27.8" lengthAdjust="spacingAndGlyphs">Number</text>
<text transform="translate(17.3,449.9) rotate(-90)" x="0" y="0" class="yl" textLength="7.4" lengthAdjust="spacingAndGlyphs">of</text>
<text transform="translate(17.3,441.3) rotate(-90)" x="0" y="0" class="yl" textLength="33.5" lengthAdjust="spacingAndGlyphs">donations</text>
<text transform="translate(17.3,405.7) rotate(-90)" x="0" y="0" class="yl" textLength="21.2" lengthAdjust="spacingAndGlyphs">within</text>
<text transform="translate(17.3,382.6) rotate(-90)" x="0" y="0" class="yl" textLength="13.3" lengthAdjust="spacingAndGlyphs">365</text>
<text transform="translate(17.3,367.1) rotate(-90)" x="0" y="0" class="yl" textLength="15.1" lengthAdjust="spacingAndGlyphs">days</text>
<circle cx="339" cy="319.26" r="2.4" class="h"/>
<circle cx="363.3" cy="319.26" r="2.4" class="h"/>
<circle cx="372.6" cy="319.26" r="2.4" class="h"/>
<circle cx="337.4" cy="327.71" r="2.4" class="h"/>
<circle cx="354.4" cy="327.71" r="2.4" class="h"/>
<circle cx="360.2" cy="327.71" r="2.4" class="h"/>
<circle cx="371.3" cy="336.17" r="2.4" class="h"/>
<circle cx="352.7" cy="344.62" r="2.4" class="h"/>
<circle cx="331.9" cy="353.08" r="2.4" class="h"/>
<circle cx="335" cy="361.54" r="2.4" class="h"/>
<circle cx="331.4" cy="378.45" r="2.4" class="h"/>
<circle cx="362.6" cy="378.45" r="2.4" class="h"/>
<circle cx="364.9" cy="378.45" r="2.4" class="h"/>
<circle cx="369.7" cy="378.45" r="2.4" class="h"/>
<circle cx="365" cy="386.9" r="2.4" class="h"/>
<circle cx="337.4" cy="395.36" r="2.4" class="h"/>
<circle cx="365.4" cy="454.55" r="2.4" class="h"/>
<circle cx="374.2" cy="454.55" r="2.4" class="h"/>
<circle cx="369.1" cy="463.01" r="2.4" class="h"/>
<circle cx="343.1" cy="471.46" r="2.4" class="h"/>
<circle cx="330.6" cy="479.92" r="2.4" class="h"/>
<circle cx="334.7" cy="479.92" r="2.4" class="h"/>
<circle cx="360" cy="479.92" r="2.4" class="h"/>
<circle cx="348.1" cy="488.38" r="2.4" class="h"/>
<circle cx="354" cy="488.38" r="2.4" class="h"/>
<circle cx="331.1" cy="505.29" r="2.4" class="h"/>
<circle cx="359.4" cy="505.29" r="2.4" class="h"/>
<circle cx="377.1" cy="505.29" r="2.4" class="h"/>
<circle cx="353.6" cy="513.74" r="2.4" class="h"/>
<circle cx="361" cy="513.74" r="2.4" class="h"/>
<circle cx="423.7" cy="319.26" r="2.4" class="h"/>
<circle cx="445.2" cy="319.26" r="2.4" class="h"/>
<circle cx="463.7" cy="319.26" r="2.4" class="h"/>
<circle cx="467" cy="319.26" r="2.4" class="h"/>
<circle cx="426.6" cy="327.71" r="2.4" class="h"/>
<circle cx="429" cy="327.71" r="2.4" class="h"/>
<circle cx="440.3" cy="327.71" r="2.4" class="h"/>
<circle cx="452.4" cy="327.71" r="2.4" class="h"/>
<circle cx="470.7" cy="327.71" r="2.4" class="h"/>
<circle cx="422.5" cy="336.17" r="2.4" class="h"/>
<circle cx="425.8" cy="336.17" r="2.4" class="h"/>
<circle cx="447.9" cy="336.17" r="2.4" class="h"/>
<circle cx="470.2" cy="336.17" r="2.4" class="h"/>
<circle cx="423" cy="344.62" r="2.4" class="h"/>
<circle cx="427.9" cy="344.62" r="2.4" class="h"/>
<circle cx="440" cy="344.62" r="2.4" class="h"/>
<circle cx="425" cy="353.08" r="2.4" class="h"/>
<circle cx="454" cy="353.08" r="2.4" class="h"/>
<circle cx="462.1" cy="353.08" r="2.4" class="h"/>
<circle cx="468.1" cy="353.08" r="2.4" class="h"/>
<circle cx="449.7" cy="361.54" r="2.4" class="h"/>
<circle cx="437.1" cy="369.99" r="2.4" class="h"/>
<circle cx="446.3" cy="369.99" r="2.4" class="h"/>
<circle cx="464.5" cy="369.99" r="2.4" class="h"/>
<circle cx="464.5" cy="378.45" r="2.4" class="h"/>
<circle cx="451.6" cy="395.36" r="2.4" class="h"/>
<circle cx="473.4" cy="395.36" r="2.4" class="h"/>
<circle cx="475" cy="395.36" r="2.4" class="h"/>
<circle cx="454" cy="403.82" r="2.4" class="h"/>
<circle cx="460.2" cy="403.82" r="2.4" class="h"/>
<circle cx="452.1" cy="412.27" r="2.4" class="h"/>
<circle cx="473.1" cy="412.27" r="2.4" class="h"/>
<circle cx="440.8" cy="420.73" r="2.4" class="h"/>
<circle cx="448.4" cy="429.18" r="2.4" class="h"/>
<circle cx="430.9" cy="437.64" r="2.4" class="h"/>
<circle cx="471" cy="437.64" r="2.4" class="h"/>
<circle cx="472" cy="446.1" r="2.4" class="h"/>
<circle cx="435.5" cy="454.55" r="2.4" class="h"/>
<circle cx="436.8" cy="454.55" r="2.4" class="h"/>
<circle cx="441.1" cy="454.55" r="2.4" class="h"/>
<circle cx="460.5" cy="454.55" r="2.4" class="h"/>
<circle cx="472.9" cy="454.55" r="2.4" class="h"/>
<circle cx="461" cy="463.01" r="2.4" class="h"/>
<circle cx="462.1" cy="463.01" r="2.4" class="h"/>
<circle cx="437.9" cy="471.46" r="2.4" class="h"/>
<circle cx="474.2" cy="471.46" r="2.4" class="h"/>
<circle cx="432.7" cy="479.92" r="2.4" class="h"/>
<circle cx="439" cy="479.92" r="2.4" class="h"/>
<circle cx="466.5" cy="479.92" r="2.4" class="h"/>
<circle cx="467.5" cy="479.92" r="2.4" class="h"/>
<circle cx="423.3" cy="488.38" r="2.4" class="h"/>
<circle cx="450.3" cy="488.38" r="2.4" class="h"/>
<circle cx="472.6" cy="488.38" r="2.4" class="h"/>
<circle cx="433.8" cy="496.83" r="2.4" class="h"/>
<circle cx="440.8" cy="496.83" r="2.4" class="h"/>
<circle cx="446" cy="496.83" r="2.4" class="h"/>
<circle cx="460.5" cy="496.83" r="2.4" class="h"/>
<circle cx="463.7" cy="496.83" r="2.4" class="h"/>
<circle cx="425" cy="505.29" r="2.4" class="h"/>
<circle cx="435.8" cy="505.29" r="2.4" class="h"/>
<circle cx="446" cy="505.29" r="2.4" class="h"/>
<circle cx="450.3" cy="505.29" r="2.4" class="h"/>
<circle cx="457.8" cy="505.29" r="2.4" class="h"/>
<circle cx="477.8" cy="505.29" r="2.4" class="h"/>
<circle cx="445.2" cy="513.74" r="2.4" class="h"/>
<circle cx="470.2" cy="513.74" r="2.4" class="h"/>
<circle cx="471.8" cy="513.74" r="2.4" class="h"/>
<rect x="312.5" y="344.62" width="75.1" height="135.3" class="bx"/>
<line x1="312.5" y1="382.68" x2="387.6" y2="382.68" class="bx"/>
<line x1="350.4" y1="319.26" x2="350.4" y2="344.62" class="bx"/>
<line x1="350.4" y1="479.92" x2="350.4" y2="513.74" class="bx"/>
<rect x="412.8" y="353.08" width="75.7" height="135.3" class="bx"/>
<line x1="412.8" y1="433.41" x2="488.5" y2="433.41" class="bx"/>
<line x1="450.8" y1="319.26" x2="450.8" y2="353.08" class="bx"/>
<line x1="450.8" y1="488.38" x2="450.8" y2="513.74" class="bx"/>
<circle cx="339" cy="319.26" r="1.15"/>
<circle cx="363.3" cy="319.26" r="1.15"/>
<circle cx="372.6" cy="319.26" r="1.15"/>
<circle cx="337.4" cy="327.71" r="1.15"/>
<circle cx="354.4" cy="327.71" r="1.15"/>
<circle cx="360.2" cy="327.71" r="1.15"/>
<circle cx="371.3" cy="336.17" r="1.15"/>
<circle cx="352.7" cy="344.62" r="1.15"/>
<circle cx="331.9" cy="353.08" r="1.15"/>
<circle cx="335" cy="361.54" r="1.15"/>
<circle cx="331.4" cy="378.45" r="1.15"/>
<circle cx="362.6" cy="378.45" r="1.15"/>
<circle cx="364.9" cy="378.45" r="1.15"/>
<circle cx="369.7" cy="378.45" r="1.15"/>
<circle cx="365" cy="386.9" r="1.15"/>
<circle cx="337.4" cy="395.36" r="1.15"/>
<circle cx="365.4" cy="454.55" r="1.15"/>
<circle cx="374.2" cy="454.55" r="1.15"/>
<circle cx="369.1" cy="463.01" r="1.15"/>
<circle cx="343.1" cy="471.46" r="1.15"/>
<circle cx="330.6" cy="479.92" r="1.15"/>
<circle cx="334.7" cy="479.92" r="1.15"/>
<circle cx="360" cy="479.92" r="1.15"/>
<circle cx="348.1" cy="488.38" r="1.15"/>
<circle cx="354" cy="488.38" r="1.15"/>
<circle cx="331.1" cy="505.29" r="1.15"/>
<circle cx="359.4" cy="505.29" r="1.15"/>
<circle cx="377.1" cy="505.29" r="1.15"/>
<circle cx="353.6" cy="513.74" r="1.15"/>
<circle cx="361" cy="513.74" r="1.15"/>
<circle cx="423.7" cy="319.26" r="1.15"/>
<circle cx="445.2" cy="319.26" r="1.15"/>
<circle cx="463.7" cy="319.26" r="1.15"/>
<circle cx="467" cy="319.26" r="1.15"/>
<circle cx="426.6" cy="327.71" r="1.15"/>
<circle cx="429" cy="327.71" r="1.15"/>
<circle cx="440.3" cy="327.71" r="1.15"/>
<circle cx="452.4" cy="327.71" r="1.15"/>
<circle cx="470.7" cy="327.71" r="1.15"/>
<circle cx="422.5" cy="336.17" r="1.15"/>
<circle cx="425.8" cy="336.17" r="1.15"/>
<circle cx="447.9" cy="336.17" r="1.15"/>
<circle cx="470.2" cy="336.17" r="1.15"/>
<circle cx="423" cy="344.62" r="1.15"/>
<circle cx="427.9" cy="344.62" r="1.15"/>
<circle cx="440" cy="344.62" r="1.15"/>
<circle cx="425" cy="353.08" r="1.15"/>
<circle cx="454" cy="353.08" r="1.15"/>
<circle cx="462.1" cy="353.08" r="1.15"/>
<circle cx="468.1" cy="353.08" r="1.15"/>
<circle cx="449.7" cy="361.54" r="1.15"/>
<circle cx="437.1" cy="369.99" r="1.15"/>
<circle cx="446.3" cy="369.99" r="1.15"/>
<circle cx="464.5" cy="369.99" r="1.15"/>
<circle cx="464.5" cy="378.45" r="1.15"/>
<circle cx="451.6" cy="395.36" r="1.15"/>
<circle cx="473.4" cy="395.36" r="1.15"/>
<circle cx="475" cy="395.36" r="1.15"/>
<circle cx="454" cy="403.82" r="1.15"/>
<circle cx="460.2" cy="403.82" r="1.15"/>
<circle cx="452.1" cy="412.27" r="1.15"/>
<circle cx="473.1" cy="412.27" r="1.15"/>
<circle cx="440.8" cy="420.73" r="1.15"/>
<circle cx="448.4" cy="429.18" r="1.15"/>
<circle cx="430.9" cy="437.64" r="1.15"/>
<circle cx="471" cy="437.64" r="1.15"/>
<circle cx="472" cy="446.1" r="1.15"/>
<circle cx="435.5" cy="454.55" r="1.15"/>
<circle cx="436.8" cy="454.55" r="1.15"/>
<circle cx="441.1" cy="454.55" r="1.15"/>
<circle cx="460.5" cy="454.55" r="1.15"/>
<circle cx="472.9" cy="454.55" r="1.15"/>
<circle cx="461" cy="463.01" r="1.15"/>
<circle cx="462.1" cy="463.01" r="1.15"/>
<circle cx="437.9" cy="471.46" r="1.15"/>
<circle cx="474.2" cy="471.46" r="1.15"/>
<circle cx="432.7" cy="479.92" r="1.15"/>
<circle cx="439" cy="479.92" r="1.15"/>
<circle cx="466.5" cy="479.92" r="1.15"/>
<circle cx="467.5" cy="479.92" r="1.15"/>
<circle cx="423.3" cy="488.38" r="1.15"/>
<circle cx="450.3" cy="488.38" r="1.15"/>
<circle cx="472.6" cy="488.38" r="1.15"/>
<circle cx="433.8" cy="496.83" r="1.15"/>
<circle cx="440.8" cy="496.83" r="1.15"/>
<circle cx="446" cy="496.83" r="1.15"/>
<circle cx="460.5" cy="496.83" r="1.15"/>
<circle cx="463.7" cy="496.83" r="1.15"/>
<circle cx="425" cy="505.29" r="1.15"/>
<circle cx="435.8" cy="505.29" r="1.15"/>
<circle cx="446" cy="505.29" r="1.15"/>
<circle cx="450.3" cy="505.29" r="1.15"/>
<circle cx="457.8" cy="505.29" r="1.15"/>
<circle cx="477.8" cy="505.29" r="1.15"/>
<circle cx="445.2" cy="513.74" r="1.15"/>
<circle cx="470.2" cy="513.74" r="1.15"/>
<circle cx="471.8" cy="513.74" r="1.15"/>
<line x1="290" y1="308.2" x2="290" y2="524.1" class="ax"/>
<line x1="289.4" y1="523.5" x2="511.2" y2="523.5" class="ax"/>
<line x1="287" y1="522.2" x2="290" y2="522.2" class="ax"/>
<text x="283.7" y="525" class="tk">0</text>
<line x1="287" y1="479.92" x2="290" y2="479.92" class="ax"/>
<text x="283.7" y="482.72" class="tk">5</text>
<line x1="287" y1="437.64" x2="290" y2="437.64" class="ax"/>
<text x="283.7" y="440.44" class="tk" textLength="8.7" lengthAdjust="spacingAndGlyphs">10</text>
<line x1="287" y1="395.36" x2="290" y2="395.36" class="ax"/>
<text x="283.7" y="398.16" class="tk" textLength="8.7" lengthAdjust="spacingAndGlyphs">15</text>
<line x1="287" y1="353.08" x2="290" y2="353.08" class="ax"/>
<text x="283.7" y="355.88" class="tk" textLength="8.7" lengthAdjust="spacingAndGlyphs">20</text>
<line x1="287" y1="310.8" x2="290" y2="310.8" class="ax"/>
<text x="283.7" y="313.6" class="tk" textLength="8.7" lengthAdjust="spacingAndGlyphs">25</text>
<line x1="350.15" y1="523.5" x2="350.15" y2="526.6" class="ax"/>
<line x1="450.65" y1="523.5" x2="450.65" y2="526.6" class="ax"/>
<text x="350.15" y="536.6" class="ct" textLength="40.5" lengthAdjust="spacingAndGlyphs">No (n = 32)</text>
<text x="450.65" y="536.6" class="ct" textLength="41.8" lengthAdjust="spacingAndGlyphs">Yes (n = 68)</text>
<text x="400.5" y="548.1" class="sr" textLength="46.0" lengthAdjust="spacingAndGlyphs">Seroresponse</text>
<text x="400.4" y="293.4" class="tt" textLength="147.0" lengthAdjust="spacingAndGlyphs">Serogroup Y, age and sex adjusted odds</text>
<text x="400.4" y="302.6" class="tt" textLength="139.5" lengthAdjust="spacingAndGlyphs">ratio 0.99 (95%CI 0.94 - 1.05, <tspan font-style="italic">P</tspan> = .713)</text>
<text transform="translate(269.8,479.1) rotate(-90)" x="0" y="0" class="yl" textLength="27.8" lengthAdjust="spacingAndGlyphs">Number</text>
<text transform="translate(269.8,449.9) rotate(-90)" x="0" y="0" class="yl" textLength="7.4" lengthAdjust="spacingAndGlyphs">of</text>
<text transform="translate(269.8,441.3) rotate(-90)" x="0" y="0" class="yl" textLength="33.5" lengthAdjust="spacingAndGlyphs">donations</text>
<text transform="translate(269.8,405.7) rotate(-90)" x="0" y="0" class="yl" textLength="21.2" lengthAdjust="spacingAndGlyphs">within</text>
<text transform="translate(269.8,382.6) rotate(-90)" x="0" y="0" class="yl" textLength="13.3" lengthAdjust="spacingAndGlyphs">365</text>
<text transform="translate(269.8,367.1) rotate(-90)" x="0" y="0" class="yl" textLength="15.1" lengthAdjust="spacingAndGlyphs">days</text>
</svg></body></html>
